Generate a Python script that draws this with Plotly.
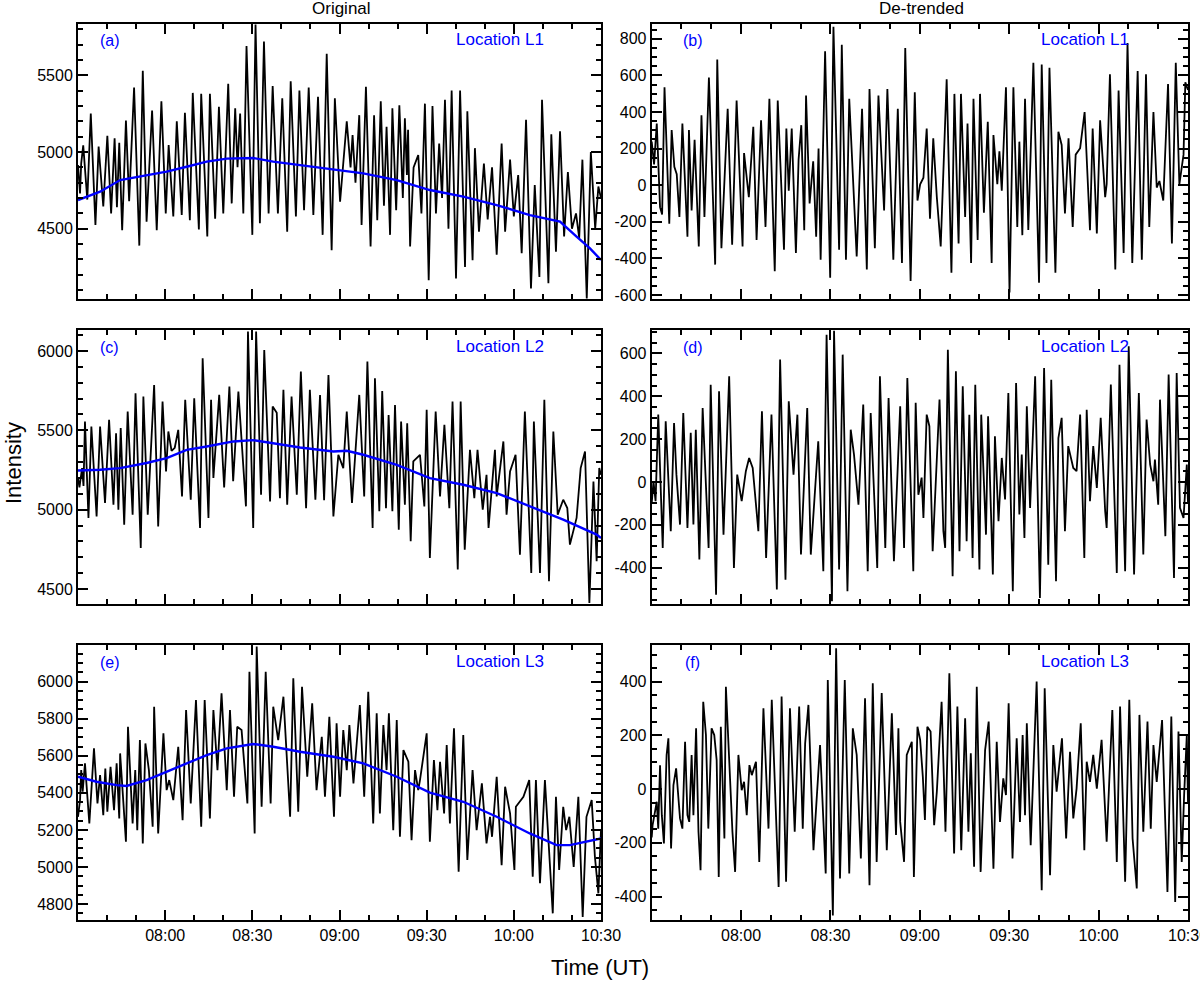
import pandas as pd
import plotly.graph_objects as go

# ---------------- data (time in minutes after 07:30 UT, intensity) ----------------
a_orig = [
(0.0,4915),(0.7,4730),(1.1,4926),(1.8,5043),(3.2,4690),(4.4,5250),(6.0,4525),(7.1,5035),(8.7,4645),(10.1,5105),
(11.4,4600),(12.6,5090),(13.4,4640),(14.2,5060),(15.2,4490),(16.5,5205),(17.6,4680),(19.3,5420),(21.1,4390),(22.3,5530),
(23.6,4545),(25.5,5270),(27.1,4490),(28.7,5330),(30.2,4600),(31.2,5045),(32.8,4580),(34.0,5200),(35.7,4590),(36.8,5255),
(38.5,4555),(39.5,5385),(41.6,4495),(42.4,5380),(44.5,4450),(45.4,5380),(47.2,4565),(48.5,5295),(50.0,4600),(51.7,5445),
(52.9,4665),(54.1,5285),(54.9,4900),(55.8,5250),(56.9,4600),(58.0,5690),(60.0,4460),(61.1,5830),(62.6,4535),(64.0,5720),
(65.6,4600),(67.0,5430),(68.8,4600),(70.3,5350),(72.0,4480),(73.2,5460),(75.0,4580),(76.2,5400),(77.8,4620),(79.4,5420),
(81.0,4590),(82.6,5360),(84.2,4460),(85.6,5640),(87.3,4360),(88.4,5350),(90.2,4676),(92.5,5200),(93.8,4900),(94.5,5110),
(95.5,4800),(96.8,5240),(97.6,4525),(99.1,5425),(100.7,4385),(101.9,5240),(103.0,4555),(104.2,5330),(105.3,4650),(106.2,5165),
(107.4,4460),(108.2,5285),(109.5,4620),(110.6,5305),(111.8,4700),(112.5,5220),(113.2,4850),(113.6,5145),(114.3,4385),(115.5,4900),
(117.1,4980),(118.2,4600),(119.4,5315),(120.7,4165),(122.0,5300),(123.2,4600),(124.3,5055),(125.3,4700),(126.3,5340),(127.5,4500),
(128.6,5400),(130.1,4175),(131.5,5400),(133.2,4250),(134.0,5265),(135.8,4295),(136.6,5025),(138.0,4480),(139.7,4925),(141.0,4560),
(142.5,4900),(144.1,4330),(145.8,5055),(147.0,4480),(148.7,4950),(150.0,4580),(151.5,4850),(152.7,4340),(154.2,5210),(155.9,4110),
(157.2,4785),(158.8,4185),(159.7,5340),(161.9,4145),(162.9,5115),(164.5,4350),(165.9,5135),(167.3,4450),(168.6,4870),(170.0,4500),
(171.4,4600),(172.5,4440),(173.6,4950),(175.1,4046),(176.5,5000),(178.0,4500),(179.1,4775),(180.0,4700)]

a_trend = [(0,4687),(7.6,4741),(14.5,4817),(23.6,4850),(30.5,4872),(37.4,4904),(44.3,4937),(51.2,4957),
(60.3,4961),(67.2,4937),(76.4,4915),(87.9,4883),(98.2,4861),(109.7,4817),(121.1,4752),(132.6,4709),
(144.1,4654),(155.5,4589),(165.9,4546),(171.6,4448),(176.2,4372),(180,4296)]

b_detr = [
(0.0,239),(0.8,113),(1.7,337),(2.8,-120),(3.5,-160),(4.3,535),(5.9,-210),(6.7,301),(7.6,100),(8.4,60),
(9.3,-174),(10.3,337),(12.0,-282),(12.5,301),(13.4,-138),(14.4,248),(15.8,-335),(16.7,382),(17.7,-174),(19.2,588),
(21.3,-434),(22.0,687),(23.4,-344),(25.5,418),(27.0,-326),(28.5,463),(30.5,-335),(31.0,176),(32.6,-66),(34.1,319),
(35.2,-300),(36.7,355),(38.2,-228),(39.5,472),(41.3,-470),(42.3,463),(44.4,-353),(45.2,310),(46.0,-30),(47.0,310),
(48.4,-371),(49.3,140),(50.2,328),(51.2,-246),(51.8,490),(53.0,-100),(54.2,130),(55.2,-282),(56.0,200),(56.7,-407),
(58.2,732),(59.9,-506),(61.0,866),(62.9,-353),(63.8,768),(65.2,-407),(66.3,472),(67.4,60),(68.8,-390),(70.6,418),
(72.2,-461),(73.1,526),(74.9,-344),(76.1,490),(78.0,-138),(79.1,526),(81.1,-407),(82.6,418),(84.0,-425),(85.1,750),
(86.9,-524),(88.3,508),(89.2,-84),(90.1,5),(91.2,41),(92.3,310),(93.4,-183),(94.5,256),(95.7,-66),(97.0,-335),
(99.0,579),(100.6,-479),(101.6,499),(103.0,-318),(103.8,499),(105.2,-174),(106.0,337),(107.2,-425),(108.0,472),(109.4,-300),
(110.2,499),(111.5,-150),(112.8,346),(114.1,-425),(114.7,274),(116.0,5),(116.7,185),(117.5,-30),(118.9,535),(120.1,-587),
(121.4,535),(122.7,-228),(123.4,238),(124.4,-273),(125.3,472),(126.4,-245),(128.1,669),(130.0,-533),(130.9,660),(132.5,-425),
(133.5,642),(135.5,-479),(136.5,292),(137.6,220),(138.7,-155),(139.9,256),(141.3,-228),(142.3,167),(143.8,202),(145.3,400),
(147.1,-246),(148.0,310),(149.4,-264),(150.5,355),(152.2,-66),(152.7,5),(153.8,606),(155.6,-461),(156.7,517),(158.4,-371),
(159.7,777),(161.3,-425),(163.1,624),(164.5,-407),(165.9,606),(167.0,-228),(168.4,400),(169.5,-13),(170.4,23),(171.7,-84),
(173.3,553),(174.6,-318),(175.9,669),(177.1,5),(178.5,167),(179.1,562),(180.0,520)]

c_orig = [
(0.0,5199),(0.5,5140),(1.4,5262),(1.9,5150),(2.4,5556),(3.6,4948),(4.6,5524),(6.4,4958),(7.6,5524),(8.2,5370),
(9.3,5042),(10.7,5566),(12.2,5031),(13.1,5482),(13.9,5000),(14.7,5514),(15.9,4906),(17.1,5618),(18.8,4969),(19.8,5734),
(21.6,4759),(22.5,5713),(24.0,4969),(26.2,5786),(27.6,4895),(29.1,5681),(30.3,5241),(31.1,5493),(32.2,5370),(33.3,5390),
(34.5,5503),(35.8,5084),(36.9,5692),(38.8,5063),(40.0,5702),(42.0,4885),(42.9,5954),(44.9,4948),(45.8,5692),(46.6,5200),
(48.6,5723),(50.3,5140),(52.1,5776),(53.4,5180),(55.2,5744),(57.8,5021),(58.5,6122),(60.3,4885),(61.3,6122),(63.0,5094),
(64.1,6006),(66.1,5052),(67.0,5650),(68.4,5610),(69.5,5073),(70.7,5755),(72.0,5031),(73.5,5713),(75.3,5094),(76.7,5870),
(78.5,5010),(79.8,5755),(81.7,5063),(83.3,5723),(84.7,5060),(86.2,5849),(87.9,4958),(89.6,5346),(91.3,5262),(92.5,5618),
(94.3,5042),(96.8,5723),(98.5,5084),(99.6,5933),(101.4,4885),(102.2,5828),(103.7,4990),(104.7,5748),(106.0,5010),(106.9,5597),
(108.2,4990),(109.1,5660),(110.4,4874),(111.2,5555),(112.5,5031),(113.3,5545),(114.5,4801),(115.4,5304),(117.7,5346),(119.2,5021),
(120.0,5629),(121.1,4696),(123.1,5618),(124.6,5084),(126.1,5535),(127.8,5010),(128.9,5681),(130.7,4623),(131.7,5681),(133.1,4748),
(134.9,5377),(136.4,5073),(137.5,5377),(139.3,5000),(140.6,5220),(141.3,4885),(143.5,5377),(144.1,5084),(146.4,5430),(147.5,4969),
(148.7,5241),(150.6,5346),(152.1,4717),(153.8,5618),(156.0,4602),(156.9,5556),(159.0,4602),(160.5,5692),(162.1,4549),(163.6,5493),
(165.1,4969),(167.0,5063),(168.4,5010),(169.3,4780),(171.6,4948),(173.0,5262),(174.5,5367),(176.0,4413),(177.4,5178),(178.5,4675),
(179.4,5262),(180.0,5220)]

c_trend = [(0,5247),(7.6,5252),(14.5,5262),(23.6,5294),(30.5,5325),(37.4,5377),(44.3,5398),(53.5,5430),
(60.3,5438),(67.2,5419),(76.4,5392),(87.9,5367),(92.5,5371),(98.2,5346),(109.7,5283),(121.1,5199),
(132.6,5157),(144.1,5105),(155.5,5021),(167.0,4937),(178.5,4843),(180,4822)]

d_detr = [
(0.0,-100),(0.6,3),(1.3,-90),(2.2,314),(3.7,-308),(4.7,283),(6.4,-230),(7.5,275),(8.3,34),(9.5,-199),
(10.6,322),(12.0,-215),(13.1,229),(14.0,-199),(14.8,244),(16.0,-362),(17.1,345),(19.1,-308),(19.8,454),(21.6,-526),
(22.6,423),(24.1,-246),(26.0,493),(27.6,-401),(28.7,34),(30.2,-90),(31.6,50),(32.7,112),(33.9,65),(35.8,-230),
(37.0,330),(38.4,-355),(40.2,314),(42.0,-502),(43.1,571),(44.9,-456),(46.0,376),(47.6,34),(48.9,314),(50.1,-339),
(52.2,345),(53.4,-339),(55.9,190),(57.6,-417),(58.7,687),(60.5,-557),(61.2,705),(62.9,-409),(64.1,594),(65.7,-510),
(66.8,244),(67.9,127),(69.4,-106),(71.0,361),(72.5,-417),(73.5,322),(75.7,-401),(76.6,493),(78.4,-308),(79.5,392),
(81.3,-370),(83.4,353),(84.7,-308),(85.8,485),(87.8,-417),(88.6,369),(89.5,-60),(90.6,20),(91.2,-168),(92.3,314),
(93.2,260),(94.3,-323),(96.6,384),(97.9,-230),(98.5,-308),(99.4,617),(101.0,-440),(102.1,516),(103.3,-323),(104.4,446),
(105.7,-277),(106.6,314),(107.7,-355),(108.6,454),(110.0,-409),(110.6,314),(112.2,-246),(112.9,306),(114.5,-432),(115.2,213),
(116.4,-183),(117.5,112),(118.6,-82),(119.7,415),(121.2,-510),(122.3,462),(123.4,-152),(124.2,128),(125.1,-261),(125.9,353),
(127.0,-121),(128.7,493),(130.3,-541),(131.7,532),(133.1,-386),(134.1,477),(135.7,-463),(136.5,205),(137.6,299),(138.7,-230),
(139.8,167),(141.5,65),(142.6,50),(143.8,314),(145.2,-355),(146.0,337),(147.1,-90),(148.2,167),(149.4,-28),(150.7,299),
(152.2,-137),(152.7,-215),(154.1,454),(156.1,-425),(157.0,547),(158.9,-417),(160.1,633),(161.9,-432),(163.5,415),(165.0,-339),
(166.1,291),(167.3,81),(168.4,3),(168.9,104),(170.0,-106),(170.6,384),(172.4,-253),(173.5,501),(175.3,-448),(176.2,508),
(177.3,-121),(178.5,-168),(179.6,81),(180.0,-100)]

e_orig = [
(0.0,5271),(0.7,5361),(1.1,5523),(1.6,5406),(2.4,5559),(3.2,5379),(3.9,5235),(5.5,5640),(6.7,5343),(7.6,5496),
(8.7,5280),(9.4,5532),(10.1,5298),(11.2,5541),(12.4,5307),(13.3,5559),(14.2,5262),(14.5,5613),(16.5,5137),(17.2,5757),
(18.8,5235),(19.7,5523),(20.4,5199),(21.3,5685),(22.3,5127),(23.2,5667),(24.4,5523),(25.7,5217),(26.2,5865),(27.6,5181),
(29.4,5721),(30.5,5415),(31.4,5469),(32.8,5361),(34.5,5649),(36.0,5253),(37.2,5847),(38.8,5343),(40.6,5901),(42.4,5217),
(43.6,5901),(45.4,5262),(46.6,5847),(48.0,5523),(49.4,5937),(51.2,5415),(52.3,5847),(53.7,5379),(54.8,5757),(56.3,5739),
(58.3,5343),(59.0,6054),(60.8,5181),(61.5,6190),(63.2,5325),(64.6,6054),(66.3,5343),(67.2,5865),(68.9,5685),(70.7,5919),
(73.0,5271),(74.1,6018),(75.8,5298),(77.1,5973),(78.9,5487),(80.6,5883),(82.1,5415),(83.9,5703),(85.0,5379),(86.5,5811),
(88.1,5271),(89.0,5775),(90.2,5379),(91.3,5739),(92.5,5523),(93.4,5766),(94.8,5451),(97.0,5874),(98.5,5379),(99.9,5946),
(101.6,5235),(102.8,5829),(103.9,5289),(105.1,5766),(106.2,5523),(107.0,5829),(108.5,5199),(109.7,5793),(110.8,5163),(112.0,5631),
(113.7,5568),(114.8,5145),(116.0,5523),(117.1,5415),(117.7,5469),(120.0,5721),(121.1,5137),(122.5,5577),(123.7,5307),(124.6,5568),
(126.0,5289),(126.9,5658),(128.0,5235),(129.4,5748),(131.0,4975),(132.6,5712),(134.0,5038),(135.8,5523),(137.2,5199),(139.0,5451),
(140.6,5127),(141.8,5271),(142.5,5163),(144.1,5487),(145.8,5010),(147.0,5433),(148.7,5289),(150.2,4984),(150.7,5325),(153.3,5379),
(155.3,5469),(156.5,4948),(157.6,5469),(159.0,4912),(160.7,5469),(163.4,4750),(164.5,5379),(165.6,4984),(167.0,5325),(168.0,5199),
(169.1,5271),(170.6,5000),(172.2,5379),(173.7,4730),(175.0,5271),(176.8,5361),(177.9,5056),(179.1,4858),(180.0,5199)]

e_trend = [(0,5487),(6.4,5460),(13.3,5442),(16.7,5437),(23.6,5469),(30.5,5514),(37.4,5559),(44.3,5604),
(51.2,5640),(60.3,5664),(67.2,5649),(76.4,5622),(87.9,5595),(98.2,5559),(109.7,5487),(121.1,5401),
(132.6,5352),(144.1,5271),(155.5,5181),(164.7,5118),(169.3,5118),(180,5154)]

f_detr = [
(0.0,-180),(0.3,-134),(0.9,-97),(1.7,-47),(2.2,-147),(2.8,89),(3.4,-97),(4.1,-202),(5.0,127),(5.6,189),
(6.5,-221),(7.3,15),(8.2,77),(9.1,-60),(9.5,-109),(10.3,-147),(11.2,176),(12.0,-97),(12.6,-122),(13.4,127),
(14.0,-97),(14.9,226),(15.7,-159),(16.4,-302),(17.3,325),(18.2,201),(19.0,-147),(20.1,226),(21.0,201),(21.8,108),
(22.5,-327),(23.2,232),(24.4,-184),(24.9,381),(26.1,77),(27.1,-159),(28.0,-308),(29.1,127),(30.2,-4),(31.0,27),
(31.9,-97),(32.8,89),(33.6,52),(35.0,102),(36.1,-271),(37.5,301),(39.2,-147),(40.3,332),(42.6,-364),(43.6,344),
(45.1,-345),(46.4,301),(48.0,-159),(49.5,307),(50.7,-147),(51.5,170),(52.6,313),(54.3,-227),(56.5,164),(58.4,-314),
(59.1,406),(60.8,-470),(61.9,524),(63.2,-333),(64.8,406),(65.5,102),(66.3,-314),(67.5,226),(68.8,127),(70.2,-258),
(71.6,338),(73.1,-358),(74.2,394),(75.5,-271),(77.2,357),(78.9,-227),(80.6,282),(82.0,-171),(82.8,226),(83.4,-122),
(84.7,-271),(85.6,127),(87.3,176),(88.0,-327),(89.2,232),(90.1,183),(91.0,46),(91.7,-115),(92.5,232),(93.6,214),
(94.8,-134),(95.7,-10),(97.3,325),(98.6,-159),(99.9,431),(101.5,-240),(102.6,307),(103.9,-227),(105.2,263),(106.3,-159),
(107.1,133),(108.2,-289),(109.1,381),(110.4,-308),(111.9,145),(113.1,251),(114.7,-296),(115.8,176),(116.9,-122),(118.0,40),
(118.9,-22),(119.8,319),(121.1,-258),(122.5,189),(123.6,-122),(124.5,201),(125.3,-97),(125.9,245),(127.2,-209),(129.2,400),
(130.9,-376),(131.9,375),(133.7,-320),(134.8,164),(135.9,-10),(137.7,189),(139.1,-184),(140.4,139),(141.5,-109),(142.6,2),
(144.0,245),(145.2,-227),(146.0,102),(147.1,27),(148.2,127),(149.4,2),(151.0,183),(152.7,-196),(154.6,294),(156.1,-271),
(157.2,307),(158.9,-345),(160.3,332),(161.4,-184),(162.8,-370),(163.7,276),(165.0,-159),(166.4,251),(167.5,-147),(168.4,164),
(169.5,27),(171.3,257),(173.1,-383),(174.4,270),(175.7,-420),(176.8,214),(177.9,-271),(178.7,-22),(179.6,201),(180.0,-50)]

# axis ranges and tick labels
y_ranges = {"a": [4042, 5834], "b": [-622, 881], "c": [4404, 6132],
            "d": [-571, 709], "e": [4714, 6198], "f": [-487, 536]}
y_ticks = {"a": [4500, 5000, 5500], "b": [-600, -400, -200, 0, 200, 400, 600, 800],
           "c": [4500, 5000, 5500, 6000], "d": [-400, -200, 0, 200, 400, 600],
           "e": [4800, 5000, 5200, 5400, 5600, 5800, 6000], "f": [-400, -200, 0, 200, 400]}
y_minor = {"a": 100, "b": 50, "c": 100, "d": 50, "e": 50, "f": 50}
time_ticks = ["08:00", "08:30", "09:00", "09:30", "10:00", "10:30"]
panel_labels = {"a": "(a)", "b": "(b)", "c": "(c)", "d": "(d)", "e": "(e)", "f": "(f)"}
location_labels = {"a": "Location L1", "b": "Location L1", "c": "Location L2",
                   "d": "Location L2", "e": "Location L3", "f": "Location L3"}

# ---------------- figure ----------------
W, H = 1200, 981
FONT = "Liberation Sans, Arial, Helvetica, sans-serif"
base = pd.Timestamp("2000-01-01 07:30:00")


def to_time(pairs):
    return [base + pd.Timedelta(minutes=t) for t, _ in pairs]


def vals(pairs):
    return [v for _, v in pairs]


px_x = {"L": (78, 601), "R": (651.7, 1188)}
px_y = {1: (24, 299), 2: (330, 604.3), 3: (645, 920)}
panels = [("a", "L", 1), ("b", "R", 1), ("c", "L", 2), ("d", "R", 2), ("e", "L", 3), ("f", "R", 3)]
orig_series = {"a": (a_orig, a_trend), "c": (c_orig, c_trend), "e": (e_orig, e_trend)}
detr_series = {"b": b_detr, "d": d_detr, "f": f_detr}

fig = go.Figure()
layout = dict(width=W, height=H, margin=dict(l=0, r=0, t=0, b=0, autoexpand=False),
              paper_bgcolor="white", plot_bgcolor="white", showlegend=False,
              font=dict(family=FONT, color="black"))
annotations = []

for i, (key, col, row) in enumerate(panels, start=1):
    xs = "x" if i == 1 else f"x{i}"
    ys = "y" if i == 1 else f"y{i}"
    x0, x1 = px_x[col]
    y0, y1 = px_y[row]
    if key in orig_series:
        o, tr = orig_series[key]
        fig.add_trace(go.Scatter(x=to_time(o), y=vals(o), mode="lines",
                                 line=dict(color="black", width=1.8), xaxis=xs, yaxis=ys))
        fig.add_trace(go.Scatter(x=to_time(tr), y=vals(tr), mode="lines",
                                 line=dict(color="#0000ff", width=2.4), xaxis=xs, yaxis=ys))
    else:
        d = detr_series[key]
        fig.add_trace(go.Scatter(x=to_time(d), y=vals(d), mode="lines",
                                 line=dict(color="black", width=1.8), xaxis=xs, yaxis=ys))

    xa = dict(type="date", domain=[x0 / W, x1 / W], anchor=ys, automargin=False,
              range=[base, base + pd.Timedelta(minutes=180)],
              tickmode="array", tickvals=[f"2000-01-01 {t}:00" for t in time_ticks],
              ticktext=time_ticks, ticks="inside", ticklen=10, tickwidth=1.5, tickcolor="black",
              mirror="allticks", showline=True, linewidth=2, linecolor="black",
              showgrid=False, zeroline=False, showticklabels=(row == 3),
              ticklabeloverflow="allow",
              tickfont=dict(size=16, color="black", family=FONT),
              minor=dict(tickmode="linear", tick0=base, dtick=600000, ticks="inside",
                         ticklen=5, tickwidth=1.5, tickcolor="black", showgrid=False))
    ya = dict(domain=[1 - y1 / H, 1 - y0 / H], anchor=xs, range=y_ranges[key], automargin=False,
              tickmode="array", tickvals=y_ticks[key], ticktext=[str(v) for v in y_ticks[key]],
              ticks="inside", ticklen=10, tickwidth=1.5, tickcolor="black",
              mirror="allticks", showline=True, linewidth=2, linecolor="black",
              showgrid=False, zeroline=False,
              tickfont=dict(size=16, color="black", family=FONT),
              minor=dict(tickmode="linear", tick0=0, dtick=y_minor[key], ticks="inside",
                         ticklen=5, tickwidth=1.5, tickcolor="black", showgrid=False))
    layout["xaxis" if i == 1 else f"xaxis{i}"] = xa
    layout["yaxis" if i == 1 else f"yaxis{i}"] = ya

    # panel letter and location label
    lx = (x0 + (32 if col == "L" else 41)) / W
    annotations.append(dict(x=lx, y=1 - (y0 + 17) / H, xref="paper", yref="paper",
                            text=panel_labels[key], showarrow=False, xanchor="center", yanchor="middle",
                            font=dict(size=16, color="#0000ff", family=FONT)))
    locx = (500 if col == "L" else 1085) / W
    annotations.append(dict(x=locx, y=1 - (y0 + 16) / H, xref="paper", yref="paper",
                            text=location_labels[key], showarrow=False, xanchor="center", yanchor="middle",
                            font=dict(size=17, color="#0000ff", family=FONT)))

annotations += [
    dict(x=341 / W, y=1 - 9 / H, xref="paper", yref="paper", text="Original", showarrow=False,
         xanchor="center", yanchor="middle", font=dict(size=17, color="black", family=FONT)),
    dict(x=921 / W, y=1 - 9 / H, xref="paper", yref="paper", text="De-trended", showarrow=False,
         xanchor="center", yanchor="middle", font=dict(size=17, color="black", family=FONT)),
    dict(x=13 / W, y=1 - 463 / H, xref="paper", yref="paper", text="Intensity", showarrow=False,
         textangle=-90, xanchor="center", yanchor="middle", font=dict(size=22, color="black", family=FONT)),
    dict(x=600 / W, y=1 - 967 / H, xref="paper", yref="paper", text="Time (UT)", showarrow=False,
         xanchor="center", yanchor="middle", font=dict(size=22, color="black", family=FONT)),
]
layout["annotations"] = annotations
fig.update_layout(**layout)
fig.write_html("out.html", config={"displayModeBar": False, "responsive": False},
               post_script="document.body.style.margin='0';document.body.style.overflow='hidden';")
